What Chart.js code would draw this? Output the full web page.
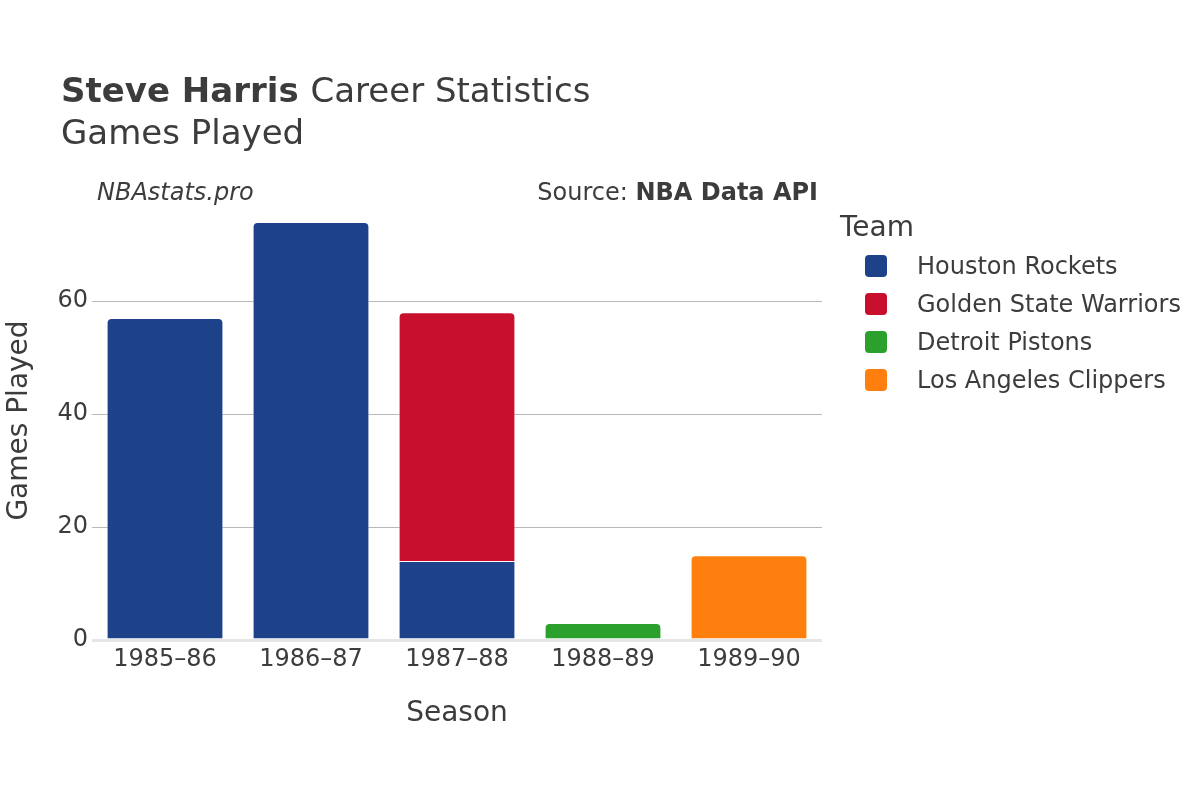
<!DOCTYPE html>
<html>
<head>
<meta charset="utf-8">
<script src="https://cdn.jsdelivr.net/npm/chart.js@4.4.1/dist/chart.umd.min.js"></script>
<style>
  html, body { margin:0; padding:0; background:#fff; }
  #wrap { width:1200px; height:800px; position:relative; }
</style>
</head>
<body>
<div id="wrap"><canvas id="c" width="1200" height="800"></canvas></div>
<script>
const seasons = ["1985–86", "1986–87", "1987–88", "1988–89", "1989–90"];
const teams = ["Houston Rockets", "Golden State Warriors", "Detroit Pistons", "Los Angeles Clippers"];
const teamColors = ["#1d428a", "#c8102e", "#2ca02c", "#ff7f0e"];
const houston  = [57, 74, 14, null, null];
const warriors = [null, null, 44, null, null];
const pistons  = [null, null, null, 3, null];
const clippers = [null, null, null, null, 15];
const yTicks = [0, 20, 40, 60];

const FONT = "'DejaVu Sans', sans-serif";
const INK = "#3c3c3c";

const series = [houston, warriors, pistons, clippers];
const datasets = teams.map((t, i) => ({
  label: t,
  data: series[i],
  backgroundColor: teamColors[i],
  borderColor: "rgba(255,255,255,0.6)",
  borderWidth: 1,
  borderSkipped: "start",
  borderRadius: 5,
  categoryPercentage: 1,
  barPercentage: 0.8,
}));

// titles, watermark, source and legend drawn on the canvas
const decor = {
  id: "decor",
  afterDraw(chart){
    const ctx = chart.ctx;
    ctx.save();
    ctx.fillStyle = INK;
    ctx.textBaseline = "alphabetic";
    ctx.textAlign = "left";
    ctx.font = `bold 34px ${FONT}`;
    ctx.fillText("Steve Harris", 61, 102);
    const w = ctx.measureText("Steve Harris ").width;
    ctx.font = `34px ${FONT}`;
    ctx.fillText("Career Statistics", 61 + w, 102);
    ctx.fillText("Games Played", 61, 144);

    ctx.font = `italic 24px ${FONT}`;
    ctx.fillText("NBAstats.pro", 97, 200);

    ctx.textAlign = "right";
    ctx.font = `bold 24px ${FONT}`;
    ctx.fillText("NBA Data API", 818, 200);
    const bw = ctx.measureText("NBA Data API").width;
    ctx.font = `24px ${FONT}`;
    ctx.fillText("Source: ", 818 - bw, 200);

    // legend
    ctx.textAlign = "left";
    ctx.font = `28px ${FONT}`;
    ctx.fillText("Team", 840, 236);
    ctx.font = `24px ${FONT}`;
    ctx.textBaseline = "middle";
    chart.data.datasets.forEach((ds, i) => {
      const y = 266 + i * 38;
      ctx.fillStyle = ds.backgroundColor;
      ctx.beginPath();
      ctx.roundRect(865, y - 11, 22, 22, 4);
      ctx.fill();
      ctx.fillStyle = INK;
      ctx.fillText(ds.label, 917, y + 2);
    });
    ctx.restore();
  }
};

new Chart(document.getElementById("c"), {
  type: "bar",
  data: { labels: seasons, datasets },
  plugins: [decor],
  options: {
    responsive: false,
    animation: false,
    layout: { padding: { left: 2.5, top: 201, right: 378, bottom: 69 } },
    plugins: { legend: { display: false }, tooltip: { enabled: false } },
    scales: {
      x: {
        stacked: true,
        grid: { display: false, drawTicks: false },
        border: { display: false },
        ticks: { color: INK, font: { family: FONT, size: 24 }, padding: 5, maxRotation: 0 },
        title: { display: true, text: "Season", color: INK, font: { family: FONT, size: 28 }, padding: 0 },
        afterFit(s){ s.height = 800 - 69 - 640; }
      },
      y: {
        stacked: true,
        min: 0,
        max: 77.7,
        afterBuildTicks(s){ s.ticks = yTicks.map(v => ({ value: v })); },
        grid: {
          drawTicks: false,
          color: c => c.tick && c.tick.value === 0 ? "#e6e6e6" : "#b8b8b8",
          lineWidth: c => c.tick && c.tick.value === 0 ? 3 : 1,
        },
        border: { display: false },
        ticks: { color: INK, font: { family: FONT, size: 24 }, padding: 4 },
        title: { display: true, text: "Games Played", color: INK, font: { family: FONT, size: 28 }, padding: 0 },
        afterFit(s){ s.width = 92 - 2.5; }
      }
    }
  }
});
</script>
</body>
</html>
